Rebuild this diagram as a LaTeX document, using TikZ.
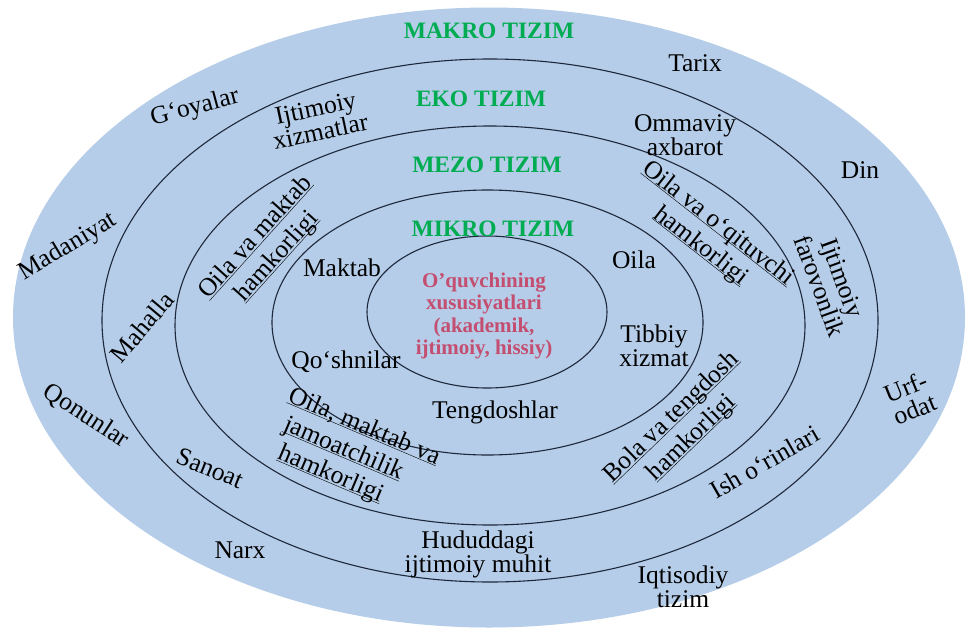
\documentclass[tikz,border=0pt]{standalone}
\usepackage{fontspec}
\setmainfont{Liberation Serif}
\definecolor{fillblue}{RGB}{181,205,232}
\definecolor{linec}{RGB}{30,40,60}
\definecolor{tgreen}{RGB}{0,172,82}
\definecolor{tpink}{RGB}{196,78,112}
\newcommand\ulx[1]{\underline{\smash{#1}}}
\begin{document}
\begin{tikzpicture}[x=1pt,y=-1pt,
  ring/.style={draw=linec,line width=1.1pt},
  lbl/.style={font=\fontsize{25.5}{24}\selectfont, inner sep=0pt, align=center, text=black},
  ulbl/.style={lbl, font=\fontsize{25.5}{28.5}\selectfont},
  ttl/.style={font=\fontsize{23.5}{26}\selectfont\bfseries, text=tgreen, inner sep=0pt},
  core/.style={font=\fontsize{21}{22.5}\selectfont\bfseries, text=tpink, align=center, inner sep=0pt}]
\useasboundingbox (0,0) rectangle (969,635);
\fill[white] (0,0) rectangle (969,635);
% rings
\fill[fillblue] (489,317.5) ellipse [x radius=476, y radius=310];
\draw[ring] (490,320.5) ellipse [x radius=388, y radius=261.5];
\draw[ring] (490,325.5) ellipse [x radius=315, y radius=199.5];
\draw[ring] (487.5,322.5) ellipse [x radius=215.5, y radius=132.5];
\draw[ring] (487,312) ellipse [x radius=120, y radius=76];
% titles
\node[ttl] (makro) at (489,31) {MAKRO TIZIM};
\node[ttl] (eko) at (481,99) {EKO TIZIM};
\node[ttl] (mezo) at (487,165) {MEZO TIZIM};
\node[ttl] (mikro) at (493,229) {MIKRO TIZIM};
% core
\node[core] (core) at (484,316) {O’quvchining\\xususiyatlari\\(akademik,\\ijtimoiy, hissiy)};
% makro level
\node[lbl] (tarix) at (695,63) {Tarix};
\node[lbl] (din) at (860,170) {Din};
\node[lbl,rotate=15] (goya) at (195,108) {G‘oyalar};
\node[lbl,rotate=31] (madan) at (68,247) {Madaniyat};
\node[lbl,rotate=-33] (qonun) at (86,416) {Qonunlar};
\node[lbl] (narx) at (240,550) {Narx};
\node[lbl] (iqtis) at (683,587) {Iqtisodiy\\tizim};
\node[lbl,rotate=22] (urf) at (910,398) {Urf-\\odat};
% eko level
\node[lbl,rotate=12] (ijxiz) at (318,120) {Ijtimoiy\\xizmatlar};
\node[lbl] (ommav) at (685,135) {Ommaviy\\axbarot};
\node[lbl,rotate=-70] (ijfar) at (831,282) {Ijtimoiy\\farovonlik};
\node[lbl,rotate=50] (mahal) at (142,327) {Mahalla};
\node[lbl,rotate=-22] (sanoat) at (210,468) {Sanoat};
\node[lbl,rotate=30] (ish) at (765,462) {Ish o‘rinlari};
\node[lbl] (hudud) at (478,554) {Hududdagi\\ijtimoiy muhit};
% mezo level
\node[ulbl,rotate=48] (om) at (272,252) {\ulx{Oila va maktab}\\\ulx{hamkorligi}};
\node[ulbl,rotate=-38] (oo) at (705,241) {\ulx{Oila va o‘qituvchi}\\\ulx{hamkorligi}};
\node[ulbl,rotate=44] (bt) at (687,433) {\ulx{Bola va tengdosh}\\\ulx{hamkorligi}};
\node[ulbl,rotate=-23,align=left] (omj) at (350,460) {\ulx{Oila, maktab va}\\\hspace*{7pt}\ulx{jamoatchilik}\\\hspace*{13pt}\ulx{hamkorligi}};
% mikro level
\node[lbl] (maktab) at (342,268) {Maktab};
\node[lbl] (oila) at (634,260) {Oila};
\node[lbl] (tibb) at (654,346) {Tibbiy\\xizmat};
\node[lbl] (qosh) at (346,362) {Qo‘shnilar};
\node[lbl] (teng) at (495,412) {Tengdoshlar};
\end{tikzpicture}
\end{document}
